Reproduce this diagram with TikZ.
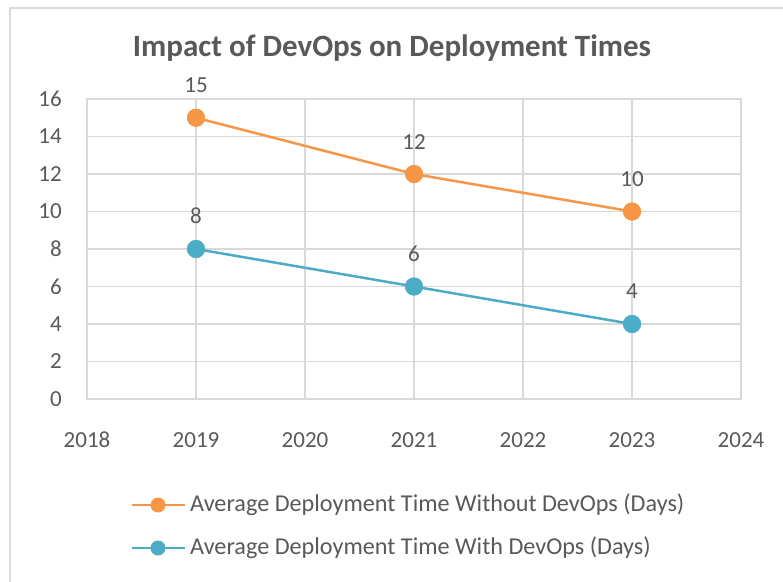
\documentclass[tikz,border=0pt]{standalone}
\usepackage{fontspec}
\setmainfont{Carlito}
\definecolor{txt}{HTML}{595959}
\definecolor{gridc}{HTML}{D9D9D9}
\definecolor{orng}{HTML}{F79646}
\definecolor{blu}{HTML}{4BACC6}
\begin{document}
\begin{tikzpicture}[x=1pt,y=-1pt,
  tick/.style={text=txt,font=\fontsize{23}{26}\selectfont,inner sep=0pt},
  lab/.style={text=txt,font=\fontsize{23}{26}\selectfont,inner sep=0pt},
  leg/.style={text=txt,font=\fontsize{24.2}{27}\selectfont,inner sep=0pt},
  mko/.style={circle,fill=orng,minimum size=18pt,inner sep=0pt},
  mkb/.style={circle,fill=blu,minimum size=18pt,inner sep=0pt},
  smko/.style={circle,fill=orng,minimum size=15pt,inner sep=0pt},
  smkb/.style={circle,fill=blu,minimum size=15pt,inner sep=0pt},
  sero/.style={orng,line width=2.5pt},
  serb/.style={blu,line width=2.5pt},
  gridl/.style={gridc,line width=1.3pt}]
\useasboundingbox (0,0) rectangle (783,581);
% chart border
\draw[gridc,line width=1.5pt] (10,600) -- (10,8) -- (800,8);
% title
\node[text=txt,font=\bfseries\fontsize{31}{35}\selectfont,inner sep=0pt] (title) at (392,48) {Impact of DevOps on Deployment Times};
% grid
\foreach \v in {2,4,...,16} \draw[gridl] (87,{399-\v*18.75}) -- (741,{399-\v*18.75});
\foreach \yr in {2019,...,2023} \draw[gridl] ({87+(\yr-2018)*109},99) -- ({87+(\yr-2018)*109},399);
\draw[gridl] (87,99) rectangle (741,399);
% y ticks
\foreach \v in {0,2,...,16} \node[tick,anchor=east] (y\v) at (62,{399-\v*18.75}) {\v};
% x ticks
\foreach \yr in {2018,...,2024} \node[tick] (x\yr) at ({87+(\yr-2018)*109},440) {\yr};
% series orange
\node[mko] (o1) at (196,117.75) {};
\node[mko] (o2) at (414,174) {};
\node[mko] (o3) at (632,211.5) {};
\draw[sero] (o1.center) -- (o2.center) -- (o3.center);
\node[mko] at (o1) {};
\node[mko] at (o2) {};
\node[mko] at (o3) {};
% series blue
\node[mkb] (b1) at (196,249) {};
\node[mkb] (b2) at (414,286.5) {};
\node[mkb] (b3) at (632,324) {};
\draw[serb] (b1.center) -- (b2.center) -- (b3.center);
\node[mkb] at (b1) {};
\node[mkb] at (b2) {};
\node[mkb] at (b3) {};
% data labels
\node[lab] (lo1) at (196,85) {15};
\node[lab] (lo2) at (414,142) {12};
\node[lab] (lo3) at (632,179) {10};
\node[lab] (lb1) at (196,216) {8};
\node[lab] (lb2) at (414,254) {6};
\node[lab] (lb3) at (632,291) {4};
% legend
\coordinate (la1) at (132,505);
\coordinate (la2) at (185,505);
\draw[sero] (la1) -- (la2);
\node[smko] (lmo) at (158,505) {};
\node[leg,anchor=west] (lto) at (190,505) {Average Deployment Time Without DevOps (Days)};
\coordinate (lb1c) at (132,548);
\coordinate (lb2c) at (185,548);
\draw[serb] (lb1c) -- (lb2c);
\node[smkb] (lmb) at (158,548) {};
\node[leg,anchor=west] (ltb) at (190,548) {Average Deployment Time With DevOps (Days)};
\end{tikzpicture}
\end{document}
